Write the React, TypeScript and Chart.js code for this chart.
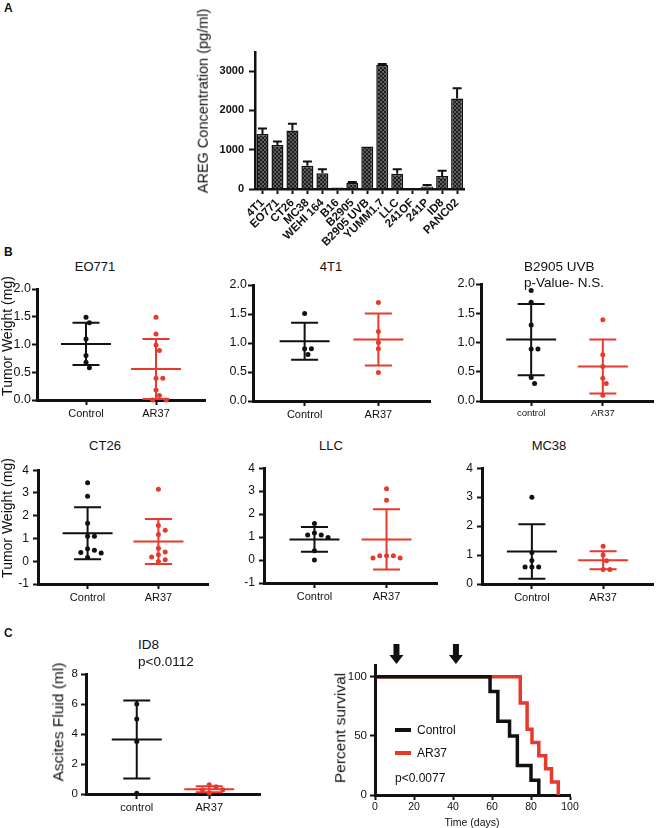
import React, { useEffect, useRef } from 'react';
import { Chart, registerables } from 'chart.js';

Chart.register(...registerables);

const FONT = '"Liberation Sans", Arial, Helvetica, sans-serif';
Chart.defaults.font.family = FONT;
const BLACK = '#111111';
const RED = '#e8392d';

// ---------------- Panel A: AREG concentration ----------------
const cellLines = ['4T1', 'EO771', 'CT26', 'MC38', 'WEHI 164', 'B16', 'B2905', 'B2905 UVB', 'YUMM1.7', 'LLC', '241OF', '241P', 'ID8', 'PANC02'];
const aregMean = [1400, 1120, 1490, 590, 400, 40, 150, 1080, 3160, 390, 25, 65, 330, 2300];
const aregErrTop = [1540, 1210, 1660, 700, 500, 40, 180, 1080, 3180, 505, 25, 100, 465, 2560];
const aregTicks = [0, 1000, 2000, 3000];

// ---------------- Panel B: tumor weights ----------------
const groupLabels = ['Control', 'AR37'];
const groupLabelsLower = ['control', 'AR37'];

const eo771Control = [1.49, 1.39, 1.10, 0.80, 0.68, 0.58];
const eo771Ar37 = [1.49, 1.19, 0.99, 0.89, 0.39, 0.39, 0.18, 0.08, 0.0, 0.0];
const eo771Mean = [1.01, 0.56];
const eo771Sd = [0.38, 0.54];

const t41Control = [1.51, 0.90, 0.90, 0.80];
const t41Ar37 = [1.70, 1.20, 1.01, 0.90, 0.49];
const t41Mean = [1.03, 1.06];
const t41Sd = [0.32, 0.45];

const uvbControl = [1.89, 1.69, 1.30, 0.89, 0.89, 0.40, 0.30];
const uvbAr37 = [1.39, 0.79, 0.59, 0.39, 0.30, 0.10];
const uvbMean = [1.05, 0.59];
const uvbSd = [0.61, 0.46];

const ct26Control = [3.45, 2.86, 1.67, 1.10, 1.10, 0.55, 0.48, 0.38, 0.36, 0.16];
const ct26Ar37 = [3.16, 1.57, 1.36, 1.17, 0.57, 0.41, 0.28, 0.19, 0.07, -0.01];
const ct26Mean = [1.23, 0.87];
const ct26Sd = [1.14, 0.99];

const llcControl = [1.59, 1.18, 1.09, 1.09, 0.98, 0.40, 0.0];
const llcAr37 = [3.10, 2.60, 0.19, 0.19, 0.19, 0.09, 0.09];
const llcMean = [0.90, 0.90];
const llcSd = [0.54, 1.31];

const mc38Control = [3.0, 1.09, 0.81, 0.59, 0.59, 0.59];
const mc38Ar37 = [1.30, 1.00, 0.80, 0.50, 0.50];
const mc38Mean = [1.12, 0.82];
const mc38Sd = [0.94, 0.31];

const weightTicksSmall = [0, 0.5, 1.0, 1.5, 2.0];
const weightTicksWide = [-1, 0, 1, 2, 3, 4];
const weightTicksPos = [0, 1, 2, 3, 4];

// ---------------- Panel C ----------------
const id8Control = [6.0, 5.0, 3.5, 0.05];
const id8Ar37 = [0.62, 0.49, 0.29, 0.29, 0.07];
const id8Mean = [3.64, 0.31];
const id8Sd = [2.6, 0.2];
const ascitesTicks = [0, 2, 4, 6, 8];

const controlDays = [0, 59, 63, 69, 73, 80, 84];
const controlSurvival = [100, 87.5, 62.5, 50, 25, 12.5, 0];
const ar37Days = [0, 74.5, 78, 80.5, 84, 87.5, 90.5, 94];
const ar37Survival = [100, 77.8, 55.6, 44.4, 33.3, 22.2, 11.1, 0];
const doseDays = [11, 41.5];
const survivalYTicks = [0, 50, 100];
const survivalXTicks = [0, 20, 40, 60, 80, 100];

// ---------------- helpers ----------------
type Area = { l: number; t: number; r: number; b: number; yw: number; xh: number; pt: number; pr: number };

function canvasRect(a: Area) {
  return { left: a.l - a.yw, top: a.t - a.pt, width: a.r - a.l + a.yw + a.pr, height: a.b - a.t + a.pt + a.xh };
}

function axis(fontSize: number, pad: number, opts: any = {}) {
  return {
    grid: {
      display: true, drawOnChartArea: false, drawTicks: true, tickLength: opts.tickLength ?? 5,
      tickWidth: opts.tickWidth ?? 2, tickColor: BLACK, color: BLACK, offset: false,
    },
    border: { display: true, color: BLACK, width: opts.borderWidth ?? 3 },
    ticks: {
      color: BLACK, padding: pad, autoSkip: false,
      font: { family: FONT, size: fontSize, weight: opts.bold ? 'bold' : 'normal' },
    },
  };
}

function ChartBox({ area, make }: { area: Area; make: () => any }) {
  const ref = useRef<HTMLCanvasElement>(null);
  useEffect(() => {
    const chart = new Chart(ref.current as HTMLCanvasElement, make());
    return () => chart.destroy();
  }, []);
  const r = canvasRect(area);
  return (
    <canvas
      ref={ref}
      width={r.width}
      height={r.height}
      style={{ position: 'absolute', left: r.left, top: r.top, width: r.width, height: r.height }}
    />
  );
}

function T({ x, y, text, size, bold, anchor = 'middle', rot, color }: any) {
  const tx = anchor === 'middle' ? '-50%' : anchor === 'end' ? '-100%' : '0';
  return (
    <div
      style={{
        position: 'absolute', left: x, top: y, whiteSpace: 'nowrap', lineHeight: 1,
        fontFamily: FONT, fontSize: size, fontWeight: bold ? 'bold' : 'normal', color: color || BLACK,
        transform: `translate(${rot ? '-50%' : tx},-50%)${rot ? ' rotate(-90deg)' : ''}`,
      }}
    >
      {text}
    </div>
  );
}

// simple beeswarm layout, computed in pixel space then converted to axis units
function swarm(values: number[], center: number, pxPerX: number, pxPerY: number, r: number) {
  const placed: { dx: number; py: number }[] = [];
  const order = values.map((_, i) => i).sort((a, b) => values[b] - values[a]);
  const xs: number[] = new Array(values.length).fill(center);
  const step = 3.4;
  const minD = 2 * r + 1.2;
  const cands = [0];
  for (let k = 1; k < 14; k++) cands.push(k * step, -k * step);
  for (const i of order) {
    const py = values[i] * pxPerY;
    for (const dx of cands) {
      if (placed.every((p) => Math.hypot(p.dx - dx, p.py - py) >= minD)) {
        placed.push({ dx, py });
        xs[i] = center + dx / pxPerX;
        break;
      }
    }
  }
  return xs;
}

type ScatterSpec = {
  area: Area; yMin: number; yMax: number; yTicks: number[]; yDec: number;
  control: number[]; ar37: number[]; mean: number[]; sd: number[];
  labels: string[]; xFont: number; yFont: number; yPad: number;
};

function scatterConfig(s: ScatterSpec) {
  const xMin = 0.3, xMax = 2.7;
  const a = s.area;
  const pxPerX = (a.r - a.l) / (xMax - xMin);
  const pxPerY = (a.b - a.t) / (s.yMax - s.yMin);
  const colors = [BLACK, RED];
  const series = [s.control, s.ar37];
  const radius = 2.5;
  const datasets = series.map((vals, gi) => {
    const xs = swarm(vals, gi + 1, pxPerX, pxPerY, radius);
    return {
      type: 'scatter',
      data: vals.map((v, i) => ({ x: xs[i], y: v })),
      backgroundColor: colors[gi], borderColor: colors[gi],
      pointRadius: radius, pointBorderWidth: 0, clip: false,
    };
  });
  const sdPlugin = {
    id: 'meanSd',
    afterDatasetsDraw(chart: any) {
      const { ctx } = chart;
      const x = chart.scales.x, y = chart.scales.y;
      s.mean.forEach((m, gi) => {
        const cx = x.getPixelForValue(gi + 1);
        const ym = y.getPixelForValue(m);
        const yh = y.getPixelForValue(m + s.sd[gi]);
        const yl = y.getPixelForValue(m - s.sd[gi]);
        ctx.save();
        ctx.strokeStyle = colors[gi];
        ctx.lineWidth = 2;
        ctx.beginPath();
        ctx.moveTo(cx - 25, ym); ctx.lineTo(cx + 25, ym);
        ctx.moveTo(cx, yh); ctx.lineTo(cx, yl);
        ctx.moveTo(cx - 13.5, yh); ctx.lineTo(cx + 13.5, yh);
        ctx.moveTo(cx - 13.5, yl); ctx.lineTo(cx + 13.5, yl);
        ctx.stroke();
        ctx.restore();
      });
    },
  };
  const xAx: any = axis(s.xFont, 2);
  xAx.ticks.callback = (v: number) => (v === 1 ? s.labels[0] : v === 2 ? s.labels[1] : '');
  const yAx: any = axis(s.yFont, s.yPad);
  yAx.ticks.callback = (v: number) => Number(v).toFixed(s.yDec);
  return {
    type: 'scatter',
    data: { datasets },
    options: {
      animation: false, responsive: false, maintainAspectRatio: false,
      layout: { padding: { top: a.pt, right: a.pr, left: 0, bottom: 0 } },
      plugins: { legend: { display: false }, tooltip: { enabled: false } },
      scales: {
        x: {
          type: 'linear', min: xMin, max: xMax, ...xAx,
          afterBuildTicks: (sc: any) => { sc.ticks = [{ value: 1 }, { value: 2 }]; },
          afterFit: (sc: any) => { sc.height = a.xh; },
        },
        y: {
          type: 'linear', min: s.yMin, max: s.yMax, ...yAx,
          afterBuildTicks: (sc: any) => { sc.ticks = s.yTicks.map((v) => ({ value: v })); },
          afterFit: (sc: any) => { sc.width = a.yw; },
        },
      },
    },
    plugins: [sdPlugin],
  };
}

function makePattern() {
  const c = document.createElement('canvas');
  c.width = 4; c.height = 4;
  const g = c.getContext('2d') as CanvasRenderingContext2D;
  g.fillStyle = '#5e5e5e'; g.fillRect(0, 0, 4, 4);
  g.fillStyle = '#1e1e1e'; g.fillRect(0, 0, 2, 2); g.fillRect(2, 2, 2, 2);
  return g.createPattern(c, 'repeat');
}

const areaA: Area = { l: 255, t: 49, r: 465, b: 189, yw: 45, xh: 64, pt: 8, pr: 4 };

function barConfig() {
  const errPlugin = {
    id: 'semBars',
    afterDatasetsDraw(chart: any) {
      const { ctx } = chart;
      const meta = chart.getDatasetMeta(0);
      const y = chart.scales.y;
      meta.data.forEach((bar: any, i: number) => {
        if (aregErrTop[i] <= aregMean[i]) return;
        const yt = y.getPixelForValue(aregErrTop[i]);
        const yb = y.getPixelForValue(aregMean[i]);
        ctx.save();
        ctx.strokeStyle = BLACK; ctx.lineWidth = 2;
        ctx.beginPath();
        ctx.moveTo(bar.x, yb); ctx.lineTo(bar.x, yt);
        ctx.moveTo(bar.x - 4.5, yt); ctx.lineTo(bar.x + 4.5, yt);
        ctx.stroke();
        ctx.restore();
      });
    },
  };
  const xAx: any = axis(11.5, 2, { bold: true, borderWidth: 2.5, tickLength: 5 });
  xAx.ticks.minRotation = 45; xAx.ticks.maxRotation = 45;
  const yAx: any = axis(11, 5, { bold: true, borderWidth: 2.5, tickLength: 6 });
  yAx.ticks.callback = (v: number) => String(v);
  return {
    type: 'bar',
    data: {
      labels: cellLines,
      datasets: [{
        data: aregMean, backgroundColor: makePattern(), borderColor: BLACK, borderWidth: 1.5,
        barPercentage: 0.8, categoryPercentage: 1,
      }],
    },
    options: {
      animation: false, responsive: false, maintainAspectRatio: false,
      layout: { padding: { top: areaA.pt, right: areaA.pr, left: 0, bottom: 0 } },
      plugins: { legend: { display: false }, tooltip: { enabled: false } },
      scales: {
        x: { ...xAx, offset: true, afterFit: (sc: any) => { sc.height = areaA.xh; } },
        y: {
          type: 'linear', min: 0, max: 3470, ...yAx,
          afterBuildTicks: (sc: any) => { sc.ticks = aregTicks.map((v) => ({ value: v })); },
          afterFit: (sc: any) => { sc.width = areaA.yw; },
        },
      },
    },
    plugins: [errPlugin],
  };
}

const areaSurv: Area = { l: 375, t: 665, r: 570, b: 795, yw: 36, xh: 22, pt: 26, pr: 12 };

function survivalConfig() {
  const arrowPlugin = {
    id: 'doseArrows',
    afterDraw(chart: any) {
      const { ctx, chartArea } = chart;
      const x = chart.scales.x;
      doseDays.forEach((d) => {
        const px = x.getPixelForValue(d);
        const top = chartArea.top;
        ctx.save();
        ctx.fillStyle = BLACK;
        ctx.fillRect(px - 3, top - 21, 6, 12);
        ctx.beginPath();
        ctx.moveTo(px - 7, top - 10);
        ctx.lineTo(px + 7, top - 10);
        ctx.lineTo(px, top - 1);
        ctx.closePath();
        ctx.fill();
        ctx.restore();
      });
    },
  };
  const xAx: any = axis(10.5, 1);
  const yAx: any = axis(11.5, 3);
  const line = (days: number[], surv: number[], color: string) => ({
    type: 'line',
    data: days.map((d, i) => ({ x: d, y: surv[i] })),
    borderColor: color, backgroundColor: color, borderWidth: 3.5, stepped: true,
    pointRadius: 0, fill: false, clip: false, borderJoinStyle: 'miter', borderCapStyle: 'butt',
  });
  return {
    type: 'line',
    data: { datasets: [line(controlDays, controlSurvival, BLACK), line(ar37Days, ar37Survival, RED)] },
    options: {
      animation: false, responsive: false, maintainAspectRatio: false,
      layout: { padding: { top: areaSurv.pt, right: areaSurv.pr, left: 0, bottom: 0 } },
      plugins: { legend: { display: false }, tooltip: { enabled: false } },
      scales: {
        x: {
          type: 'linear', min: 0, max: 100, ...xAx,
          afterBuildTicks: (sc: any) => { sc.ticks = survivalXTicks.map((v) => ({ value: v })); },
          afterFit: (sc: any) => { sc.height = areaSurv.xh; },
        },
        y: {
          type: 'linear', min: 0, max: 110, ...yAx,
          afterBuildTicks: (sc: any) => { sc.ticks = survivalYTicks.map((v) => ({ value: v })); },
          afterFit: (sc: any) => { sc.width = areaSurv.yw; },
        },
      },
    },
    plugins: [arrowPlugin],
  };
}

const scatterSpecs: ScatterSpec[] = [
  { area: { l: 37, t: 289, r: 205, b: 400, yw: 32, xh: 24, pt: 10, pr: 4 }, yMin: 0, yMax: 2, yTicks: weightTicksSmall, yDec: 1,
    control: eo771Control, ar37: eo771Ar37, mean: eo771Mean, sd: eo771Sd, labels: groupLabels, xFont: 11, yFont: 12.5, yPad: 1 },
  { area: { l: 253, t: 285, r: 430, b: 401, yw: 32, xh: 24, pt: 10, pr: 4 }, yMin: 0, yMax: 2, yTicks: weightTicksSmall, yDec: 1,
    control: t41Control, ar37: t41Ar37, mean: t41Mean, sd: t41Sd, labels: groupLabels, xFont: 11, yFont: 12.5, yPad: 1 },
  { area: { l: 481, t: 284, r: 653, b: 401, yw: 32, xh: 24, pt: 10, pr: 4 }, yMin: 0, yMax: 2, yTicks: weightTicksSmall, yDec: 1,
    control: uvbControl, ar37: uvbAr37, mean: uvbMean, sd: uvbSd, labels: groupLabelsLower, xFont: 9.5, yFont: 12.5, yPad: 1 },
  { area: { l: 38, t: 469, r: 208, b: 584, yw: 28, xh: 24, pt: 10, pr: 4 }, yMin: -1, yMax: 4, yTicks: weightTicksWide, yDec: 0,
    control: ct26Control, ar37: ct26Ar37, mean: ct26Mean, sd: ct26Sd, labels: groupLabels, xFont: 11, yFont: 12, yPad: 4 },
  { area: { l: 264, t: 467, r: 437, b: 583, yw: 28, xh: 24, pt: 10, pr: 4 }, yMin: -1, yMax: 4, yTicks: weightTicksWide, yDec: 0,
    control: llcControl, ar37: llcAr37, mean: llcMean, sd: llcSd, labels: groupLabels, xFont: 11, yFont: 12, yPad: 4 },
  { area: { l: 482, t: 467, r: 653, b: 584, yw: 28, xh: 24, pt: 10, pr: 4 }, yMin: 0, yMax: 4, yTicks: weightTicksPos, yDec: 0,
    control: mc38Control, ar37: mc38Ar37, mean: mc38Mean, sd: mc38Sd, labels: groupLabels, xFont: 11, yFont: 12, yPad: 4 },
  { area: { l: 86, t: 674, r: 260, b: 794, yw: 28, xh: 24, pt: 10, pr: 4 }, yMin: 0, yMax: 8, yTicks: ascitesTicks, yDec: 0,
    control: id8Control, ar37: id8Ar37, mean: id8Mean, sd: id8Sd, labels: groupLabelsLower, xFont: 11, yFont: 11.5, yPad: 3 },
];

export default function App() {
  return (
    <div style={{ position: 'absolute', left: 0, top: 0, width: 657, height: 828, background: '#ffffff', overflow: 'hidden' }}>
      <ChartBox area={areaA} make={barConfig} />
      {scatterSpecs.map((s, i) => (
        <ChartBox key={i} area={s.area} make={() => scatterConfig(s)} />
      ))}
      <ChartBox area={areaSurv} make={survivalConfig} />

      {/* Panel A */}
      <T x={4} y={8} text="A" size={12} bold anchor="start" />
      <T x={203} y={101} text="AREG Concentration (pg/ml)" size={14.5} rot />

      {/* Panel B */}
      <T x={4} y={252} text="B" size={12} bold anchor="start" />
      <T x={95} y={266} text="EO771" size={13} />
      <T x={331} y={266} text="4T1" size={13} />
      <T x={524} y={267} text="B2905 UVB" size={13.5} anchor="start" />
      <T x={524} y={283} text="p-Value- N.S." size={13.5} anchor="start" />
      <T x={7} y={336} text="Tumor Weight (mg)" size={14} rot />
      <T x={105} y={445} text="CT26" size={13} />
      <T x={331} y={445} text="LLC" size={13} />
      <T x={549} y={445} text="MC38" size={13} />
      <T x={7} y={518} text="Tumor Weight (mg)" size={14} rot />

      {/* Panel C */}
      <T x={4} y={633} text="C" size={12} bold anchor="start" />
      <T x={138} y={645} text="ID8" size={13.5} anchor="start" />
      <T x={138} y={662} text="p<0.0112" size={13.5} anchor="start" />
      <T x={58} y={722} text="Ascites Fluid (ml)" size={15.5} rot />
      <T x={340} y={728} text="Percent survival" size={15.5} rot />
      <T x={472} y={822} text="Time (days)" size={10.5} />
      <div style={{ position: 'absolute', left: 395, top: 728, width: 16, height: 4, background: BLACK }} />
      <T x={417} y={730} text="Control" size={12} anchor="start" />
      <div style={{ position: 'absolute', left: 395, top: 751, width: 16, height: 4, background: RED }} />
      <T x={417} y={753} text="AR37" size={12} anchor="start" />
      <T x={395} y={778} text="p<0.0077" size={12} anchor="start" />
    </div>
  );
}
